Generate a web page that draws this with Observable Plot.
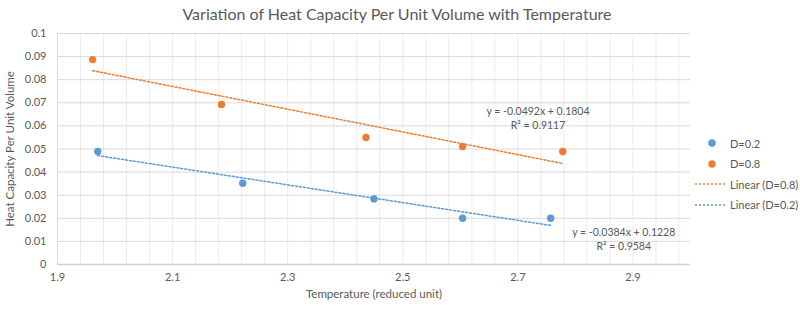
<!DOCTYPE html>
<html>
<head>
<meta charset="utf-8">
<script src="https://cdn.jsdelivr.net/npm/d3@7"></script>
<script src="https://cdn.jsdelivr.net/npm/@observablehq/plot@0.6"></script>
<style>
  html, body { margin: 0; padding: 0; background: #fff; }
  #wrap { position: relative; width: 800px; height: 309px; font-family: Lato, "Open Sans", sans-serif; color: #595959; }
  #title { position: absolute; left: 0; width: 794px; top: 4px; text-align: center; font-size: 16px; color: #595959; white-space: nowrap; }
  #legend { position: absolute; left: 694px; top: 133px; font-size: 11px; color: #595959; white-space: nowrap; }
  .row { display: flex; align-items: center; height: 20.5px; white-space: nowrap; }
  .row svg { width: 34px; height: 10px; margin-right: 2px; flex: none; }
</style>
</head>
<body>
<div id="wrap">
  <div id="title">Variation of Heat Capacity Per Unit Volume with Temperature</div>
  <div id="legend"></div>
</div>
<script>
// Measured heat capacity per unit volume at each reduced temperature
const tempD02 = [1.970, 2.222, 2.450, 2.604, 2.757];
const heatD02 = [0.0489, 0.0352, 0.0284, 0.0200, 0.0200];
const tempD08 = [1.961, 2.185, 2.436, 2.604, 2.778];
const heatD08 = [0.0887, 0.0693, 0.0550, 0.0511, 0.0489];

// Linear fits as reported on the chart
const fitD02 = { slope: -0.0384, intercept: 0.1228, r2: 0.9584 };
const fitD08 = { slope: -0.0492, intercept: 0.1804, r2: 0.9117 };

const xTicks = [1.9, 2.1, 2.3, 2.5, 2.7, 2.9];
const yTicks = [0, 0.01, 0.02, 0.03, 0.04, 0.05, 0.06, 0.07, 0.08, 0.09, 0.1];
const xMinorStep = 0.04;

const blue = "#5B9BD5";
const orange = "#ED7D31";

const points = [
  ...tempD02.map((t, i) => ({ t, c: heatD02[i], series: "D=0.2" })),
  ...tempD08.map((t, i) => ({ t, c: heatD08[i], series: "D=0.8" }))
];

function fitLine(temps, fit) {
  const lo = d3.min(temps), hi = d3.max(temps);
  return [lo, hi].map(t => ({ t, c: fit.slope * t + fit.intercept }));
}
const lineD02 = fitLine(tempD02, fitD02);
const lineD08 = fitLine(tempD08, fitD08);

const fmtEq = f => `y = ${f.slope.toFixed(4)}x + ${f.intercept.toFixed(4)}`;
const fmtR2 = f => `R² = ${f.r2.toFixed(4)}`;

// Equation labels placed near the right end of each fit
const eqLabels = [
  { t: 2.735, c: 0.0662, text: fmtEq(fitD08) },
  { t: 2.735, c: 0.0601, text: fmtR2(fitD08) },
  { t: 2.884, c: 0.0139, text: fmtEq(fitD02) },
  { t: 2.884, c: 0.0076, text: fmtR2(fitD02) }
];

const minorX = d3.range(1.9 + xMinorStep, 3.0 - 1e-9, xMinorStep);
const yFmt = d => d === 0 ? "0" : String(+d.toFixed(2));

const chart = Plot.plot({
  width: 800,
  height: 309,
  marginLeft: 57,
  marginRight: 110,
  marginTop: 33,
  marginBottom: 45,
  style: { fontFamily: "Lato, 'Open Sans', sans-serif", fontSize: "11px", color: "#595959", background: "transparent" },
  x: { domain: [1.9, 3.0], label: null },
  y: { domain: [0, 0.1], label: null },
  marks: [
    Plot.ruleX(minorX, { stroke: "#ececec", strokeWidth: 1 }),
    Plot.ruleY(yTicks.slice(1), { stroke: "#d9d9d9", strokeWidth: 1 }),
    Plot.ruleX([1.9], { stroke: "#d9d9d9", strokeWidth: 1 }),
    Plot.ruleY([0], { stroke: "#d0d0d0", strokeWidth: 1.3 }),
    Plot.line(lineD08, { x: "t", y: "c", stroke: orange, strokeWidth: 1.5, strokeDasharray: "2 2" }),
    Plot.line(lineD02, { x: "t", y: "c", stroke: blue, strokeWidth: 1.5, strokeDasharray: "2 2" }),
    Plot.dot(points, { x: "t", y: "c", r: 3.7, fill: d => d.series === "D=0.2" ? blue : orange, stroke: null }),
    Plot.text(eqLabels, { x: "t", y: "c", text: "text", fill: "#595959", fontSize: 10.5 }),
    Plot.axisX({ ticks: xTicks, tickSize: 0, tickPadding: 9, tickFormat: d => d.toFixed(1), label: null, fill: "#595959", fontSize: 11 }),
    Plot.axisY({ ticks: yTicks, tickSize: 0, tickPadding: 11, tickFormat: yFmt, label: null, fill: "#595959", fontSize: 11 }),
    Plot.text(["Temperature (reduced unit)"], { frameAnchor: "bottom", dy: 33, fill: "#595959", fontSize: 11.5 }),
    Plot.text(["Heat Capacity Per Unit Volume"], { frameAnchor: "left", dx: -47, rotate: -90, textAnchor: "middle", fill: "#595959", fontSize: 11.5 })
  ]
});
chart.style.position = "absolute";
chart.style.left = "0";
chart.style.top = "0";
document.getElementById("wrap").insertBefore(chart, document.getElementById("title"));

// Legend
const legendItems = [
  { label: "D=0.2", color: blue, kind: "dot" },
  { label: "D=0.8", color: orange, kind: "dot" },
  { label: "Linear (D=0.8)", color: orange, kind: "line" },
  { label: "Linear (D=0.2)", color: blue, kind: "line" }
];
const legend = d3.select("#legend");
for (const item of legendItems) {
  const row = legend.append("div").attr("class", "row");
  const s = row.append("svg").attr("viewBox", "0 0 34 10");
  if (item.kind === "dot") {
    s.append("circle").attr("cx", 18).attr("cy", 5).attr("r", 3.7).attr("fill", item.color);
  } else {
    s.append("line").attr("x1", 1).attr("x2", 33).attr("y1", 5).attr("y2", 5)
      .attr("stroke", item.color).attr("stroke-width", 1.5).attr("stroke-dasharray", "2 2");
  }
  row.append("span").text(item.label);
}
</script>
</body>
</html>
